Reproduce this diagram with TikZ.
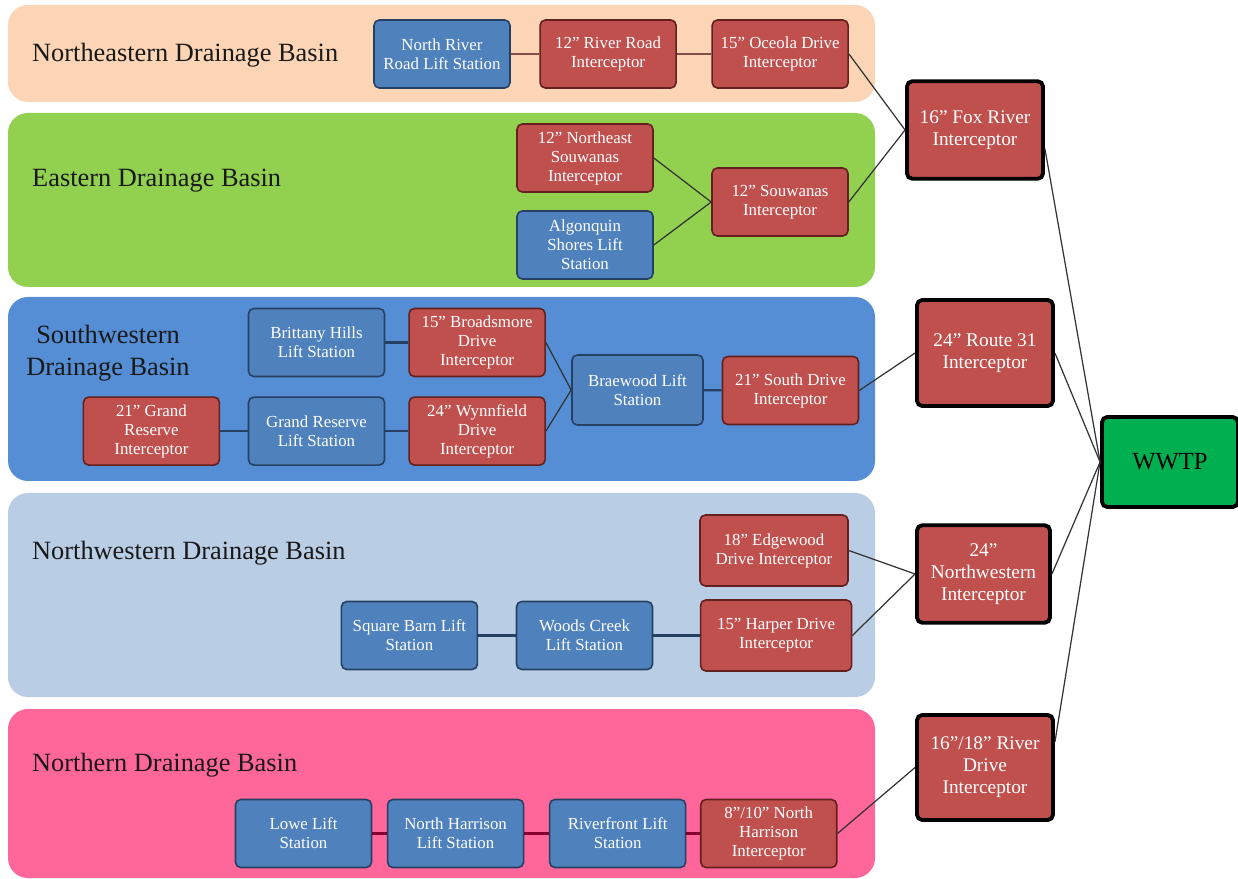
\documentclass[tikz,border=0pt]{standalone}
\usepackage{fontspec}
\setmainfont{Liberation Serif}
\usepackage{xcolor}
\usetikzlibrary{positioning,calc}
\definecolor{nepeach}{RGB}{251,213,181}
\definecolor{egreen}{RGB}{146,208,80}
\definecolor{swblue}{RGB}{85,142,213}
\definecolor{nwlight}{RGB}{185,205,229}
\definecolor{npink}{RGB}{255,102,153}
\definecolor{liftblue}{RGB}{79,129,189}
\definecolor{liftline}{RGB}{38,64,100}
\definecolor{pipered}{RGB}{192,80,77}
\definecolor{pipeline}{RGB}{100,32,30}
\definecolor{plantgreen}{RGB}{0,176,80}
\tikzset{
  basin/.style={rounded corners=4mm, draw=none},
  basinlabel/.style={anchor=west, font=\fontsize{15}{17}\selectfont, text=black!90},
  lift/.style={rounded corners=3pt, draw=liftline, line width=0.9pt, fill=liftblue, text=white, align=center, minimum width=27.2mm, minimum height=13.6mm, inner sep=1pt, font=\fontsize{9.6}{10.8}\selectfont},
  pipe/.style={lift, draw=pipeline, fill=pipered},
  trunk/.style={pipe, draw=black, line width=2.2pt, minimum height=19.5mm, font=\fontsize{11}{12.5}\selectfont},
  plant/.style={trunk, fill=plantgreen, text=black, minimum height=18mm, font=\fontsize{14}{16}\selectfont},
  link/.style={draw=black!80, line width=0.7pt},
  chain/.style={line width=1.3pt},
}
\begin{document}
\begin{tikzpicture}[x=0.2mm, y=-0.2mm]
  \useasboundingbox (0,0) rectangle (1238,879);
  % drainage basins
  \fill[basin, nepeach] (8,5) rectangle (875,102);
  \fill[basin, egreen] (8,113) rectangle (875,287);
  \fill[basin, swblue] (8,297) rectangle (875,481);
  \fill[basin, nwlight] (8,493) rectangle (875,697);
  \fill[basin, npink] (8,709) rectangle (875,878);
  \node[basinlabel] (lne) at (26,55) {Northeastern Drainage Basin};
  \node[basinlabel] (le) at (26,181) {Eastern Drainage Basin};
  \node[basinlabel, anchor=center, align=center, font=\fontsize{15}{18}\selectfont] (lsw) at (108,353) {Southwestern\\Drainage Basin};
  \node[basinlabel] (lnw) at (26,553) {Northwestern Drainage Basin};
  \node[basinlabel] (ln) at (26,765) {Northern Drainage Basin};

  % northeastern
  \node[lift] (nrrls) at (442,54) {North River\\Road Lift Station};
  \node[pipe, right=5.7mm of nrrls] (rrroad) {12” River Road\\Interceptor};
  \node[pipe, right=6.9mm of rrroad] (oceola) {15” Oceola Drive\\Interceptor};
  \node[trunk] (fox) at (975,130) {16” Fox River\\Interceptor};

  % eastern
  \node[pipe] (nesouw) at (585,158) {12” Northeast\\Souwanas\\Interceptor};
  \node[lift] (algon) at (585,245) {Algonquin\\Shores Lift\\Station};
  \node[pipe] (souw) at (780,202) {12” Souwanas\\Interceptor};

  % southwestern
  \node[lift] (britt) at (316.5,342.5) {Brittany Hills\\Lift Station};
  \node[pipe, right=4.6mm of britt] (broad) {15” Broadsmore\\Drive\\Interceptor};
  \node[lift, below=3.8mm of britt] (grrls) {Grand Reserve\\Lift Station};
  \node[pipe, below=3.8mm of broad] (wynn) {24” Wynnfield\\Drive\\Interceptor};
  \node[pipe, left=5.5mm of grrls] (grres) {21” Grand\\Reserve\\Interceptor};
  \node[lift, minimum width=26.2mm, minimum height=14mm] (braew) at (637.5,390) {Braewood Lift\\Station};
  \node[pipe] (south) at (790.5,390.5) {21” South Drive\\Interceptor};
  \node[trunk, minimum height=21.2mm] (rt31) at (985,353) {24” Route 31\\Interceptor};

  \node[plant] (wwtp) at (1170,462) {WWTP};

  % northwestern
  \node[pipe, minimum width=29.6mm, minimum height=14.2mm] (edge) at (774,550.5) {18” Edgewood\\Drive Interceptor};
  \node[trunk, minimum width=26.6mm] (nwint) at (983.5,574) {24”\\Northwestern\\Interceptor};
  \node[lift] (woods) at (584.5,635.5) {Woods Creek\\Lift Station};
  \node[lift, left=7.5mm of woods] (sqbarn) {Square Barn Lift\\Station};
  \node[pipe, minimum width=30.2mm, minimum height=14.2mm, right=9.3mm of woods] (harper) {15” Harper Drive\\Interceptor};

  % northern
  \node[lift] (lowe) at (303.5,833.5) {Lowe Lift\\Station};
  \node[lift, right=2.9mm of lowe] (nharr) {North Harrison\\Lift Station};
  \node[lift, right=4.9mm of nharr] (river) {Riverfront Lift\\Station};
  \node[pipe, right=2.7mm of river] (nh810) {8”/10” North\\Harrison\\Interceptor};
  \node[trunk, minimum height=21mm] (rivdr) at (985,767.5) {16”/18” River\\Drive\\Interceptor};

  % connectors
  \draw[link, chain, draw=pipeline!80] (nrrls) -- (rrroad) -- (oceola);
  \draw[link] (oceola.east) -- (fox.west);
  \draw[link] (nesouw.east) -- (souw.west);
  \draw[link] (algon.east) -- (souw.west);
  \draw[link] (souw.east) -- (fox.west);
  \draw[link, chain, draw=liftline] (britt) -- (broad);
  \draw[link, chain, draw=liftline] (grres) -- (grrls) -- (wynn);
  \draw[link] (broad.east) -- (braew.west);
  \draw[link] (wynn.east) -- (braew.west);
  \draw[link, chain, draw=liftline] (braew) -- (south);
  \draw[link] (south.east) -- (rt31.west);
  \draw[link] (edge.east) -- (nwint.west);
  \draw[link] (harper.east) -- (nwint.west);
  \draw[link, chain, draw=liftline] (sqbarn) -- (woods) -- (harper);
  \draw[link, chain, draw=purple!70!black] (lowe) -- (nharr) -- (river) -- (nh810);
  \draw[link] (nh810.east) -- (rivdr.west);
  \draw[link] (fox.-15) -- (wwtp.west);
  \draw[link] (rt31.east) -- (wwtp.west);
  \draw[link] (nwint.east) -- (wwtp.west);
  \draw[link] (rivdr.20) -- (wwtp.west);
\end{tikzpicture}
\end{document}
